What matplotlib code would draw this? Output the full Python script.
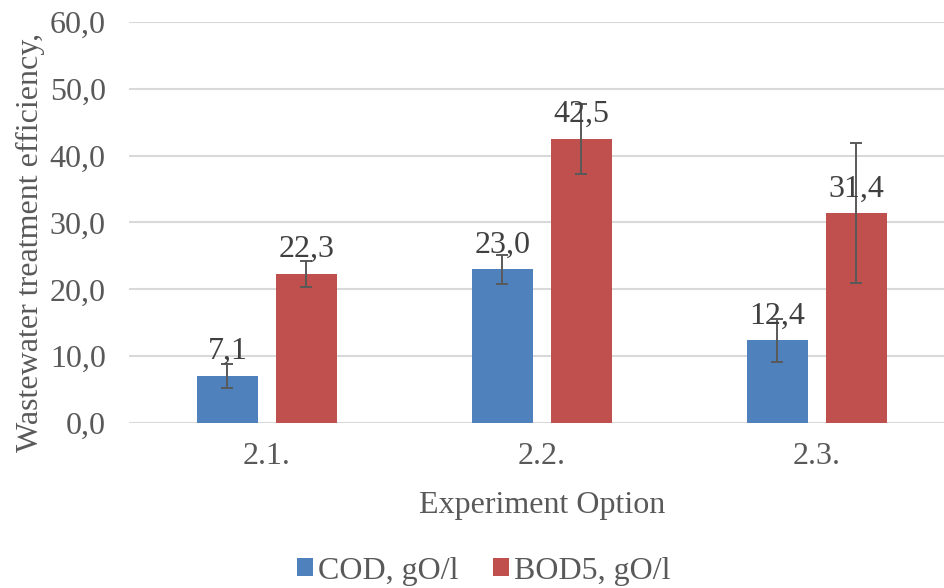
import matplotlib
matplotlib.use("Agg")
import matplotlib.pyplot as plt
import numpy as np

categories = ["2.1.", "2.2.", "2.3."]
cod = [7.1, 23.0, 12.4]
bod5 = [22.3, 42.5, 31.4]
cod_err = [1.8, 2.2, 3.2]
bod5_err = [1.9, 5.3, 10.5]
series_names = ["COD, gO/l", "BOD5, gO/l"]

plt.rcParams['font.family'] = ['Liberation Serif', 'DejaVu Serif']
FS = 23

fig = plt.figure(figsize=(9.45, 5.88), dpi=100)
ax = fig.add_axes([0.137, 0.2806, 0.873, 0.682])

x = np.arange(len(categories))
w = 0.225
off = 0.1436
blue = "#4f81bd"
red = "#c0504d"
ecol = "#595959"

b1 = ax.bar(x - off, cod, w, color=blue, label=series_names[0], zorder=3)
b2 = ax.bar(x + off, bod5, w, color=red, label=series_names[1], zorder=3)
ax.errorbar(x - off, cod, yerr=cod_err, fmt='none', ecolor=ecol, elinewidth=1.4,
            capsize=4.5, capthick=1.4, zorder=4)
ax.errorbar(x + off, bod5, yerr=bod5_err, fmt='none', ecolor=ecol, elinewidth=1.4,
            capsize=4.5, capthick=1.4, zorder=4)

for xs, vals in ((x - off, cod), (x + off, bod5)):
    for xi, v in zip(xs, vals):
        ax.annotate(f"{v:.1f}".replace('.', ','), (xi, v), xytext=(0, 7),
                    textcoords='offset points', ha='center', va='bottom',
                    fontsize=FS, color='#404040', zorder=5)

ax.set_xlim(-0.5, 2.5)
ax.set_ylim(0, 60)
ax.set_yticks(np.arange(0, 61, 10))
ax.set_yticklabels([f"{t:.1f}".replace('.', ',') for t in np.arange(0, 61, 10)])
ax.set_xticks(x)
ax.set_xticklabels(categories)
ax.tick_params(axis='y', length=0, pad=17, labelsize=FS, labelcolor='#595959')
ax.tick_params(axis='x', length=0, pad=14, labelsize=FS, labelcolor='#595959')
for s in ax.spines.values():
    s.set_visible(False)
ax.yaxis.grid(True, color='#d9d9d9', linewidth=1.5, zorder=0)
ax.set_axisbelow(True)

ax.set_xlabel("Experiment Option", fontsize=FS, color='#595959', labelpad=14)
fig.text(0.032, (588 - 452) / 588, "Wastewater treatment efficiency,",
         rotation=90, ha='center', va='bottom', fontsize=FS, color='#595959')

fig.legend(handles=[b1, b2], labels=series_names, loc='center',
           bbox_to_anchor=(0.512, (588 - 571) / 588), ncol=2, frameon=False,
           fontsize=FS, labelcolor='#595959', handlelength=0.5, handleheight=0.5,
           handletextpad=0.15, columnspacing=1.1)

fig.savefig("out.png", dpi=100)
